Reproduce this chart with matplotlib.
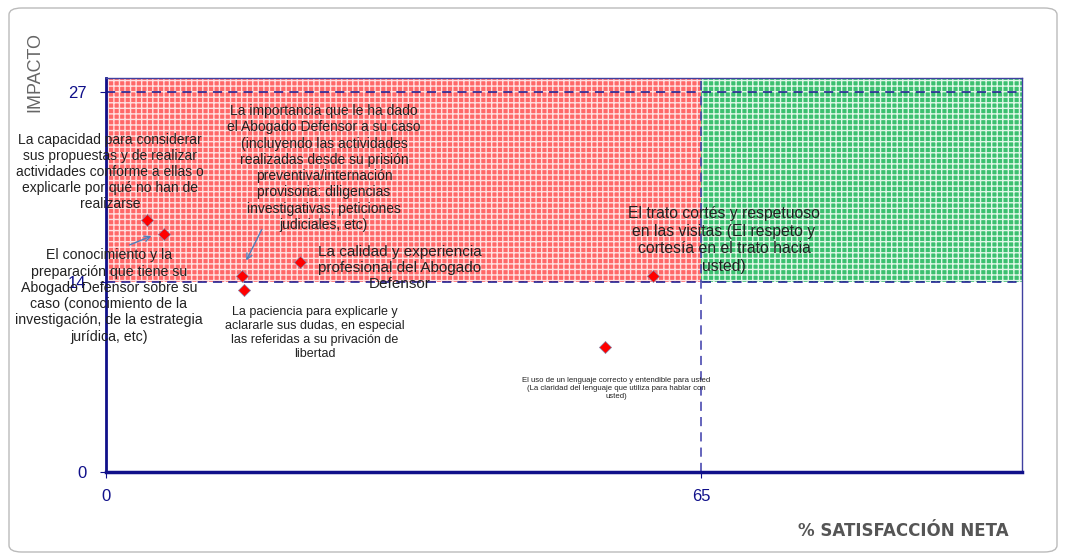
import matplotlib
matplotlib.use('Agg')
import matplotlib.pyplot as plt
from matplotlib.patches import FancyBboxPatch

plt.rcParams['font.family'] = ['Liberation Sans', 'DejaVu Sans']

# ---- data ----
items = [
    'La capacidad para considerar\nsus propuestas y de realizar\nactividades conforme a ellas o\nexplicarle por qué no han de\nrealizarse',
    'El conocimiento y la\npreparación que tiene su\nAbogado Defensor sobre su\ncaso (conocimiento de la\ninvestigación, de la estrategia\njurídica, etc)',
    'La importancia que le ha dado\nel Abogado Defensor a su caso\n(incluyendo las actividades\nrealizadas desde su prisión\npreventiva/internación\nprovisoria: diligencias\ninvestigativas, peticiones\njudiciales, etc)',
    'La paciencia para explicarle y\naclararle sus dudas, en especial\nlas referidas a su privación de\nlibertad',
    'La calidad y experiencia\nprofesional del Abogado\nDefensor',
    'El uso de un lenguaje correcto y entendible para usted\n(La claridad del lenguaje que utiliza para hablar con\nusted)',
    'El trato cortés y respetuoso\nen las visitas (El respeto y\ncortesía en el trato hacia\nusted)',
]
satisfaccion = [4.5, 6.3, 14.8, 15.1, 21.2, 54.5, 59.7]
impacto = [17.9, 16.9, 13.9, 12.9, 14.9, 8.9, 13.9]

x_corte = 65
y_corte = 13.5
y_max_linea = 27
xticks = [0, 65]
yticks = [0, 13.5, 27]
ytick_labels = ['0', '14', '27']

W, H = 1065, 558
navy = '#10108A'
txt = '#222222'

fig = plt.figure(figsize=(W / 100, H / 100), dpi=100)

# rounded frame around the slide
frame = FancyBboxPatch((9 / W, 6 / H), 1048 / W, 544 / H,
                       boxstyle='round,pad=0,rounding_size=0.012',
                       transform=fig.transFigure, facecolor='none',
                       edgecolor='#BBBBBB', lw=1)
fig.patches.append(frame)

ax = fig.add_axes([106 / W, 86 / H, 916 / W, 394 / H])
ax.set_xlim(0, 100)
ax.set_ylim(0, 28)

# quadrants
ax.fill_between([0, x_corte], y_corte, 28, facecolor='#FF6868', edgecolor='#FFE0E0',
                hatch='+++', lw=0, zorder=0)
ax.fill_between([x_corte, 100], y_corte, 28, facecolor='#3CC070', edgecolor='#E0F8E8',
                hatch='+++', lw=0, zorder=0)

ax.axhline(y_max_linea, color=navy, ls=(0, (6, 4)), lw=1.1, zorder=1)
ax.axhline(y_corte, color=navy, ls=(0, (6, 4)), lw=1.1, zorder=1)
ax.axvline(x_corte, color='#3A3AAA', ls=(0, (6, 4)), lw=1.1, zorder=1)

ax.scatter(satisfaccion, impacto, marker='D', s=38, color='#FF0000',
           edgecolor='#8888AA', linewidth=0.5, zorder=3)

for side in ['top', 'right']:
    ax.spines[side].set_color('#4040A0')
    ax.spines[side].set_linewidth(1)
ax.spines['left'].set_color(navy)
ax.spines['left'].set_linewidth(2)
ax.spines['bottom'].set_color(navy)
ax.spines['bottom'].set_linewidth(2.5)

ax.set_xticks(xticks)
ax.set_xticklabels([str(t) for t in xticks])
ax.set_yticks(yticks)
ax.set_yticklabels(ytick_labels)
ax.tick_params(axis='both', colors=navy, labelcolor=navy, labelsize=12,
               length=4, width=0.8)
ax.tick_params(axis='y', pad=10)
ax.tick_params(axis='x', pad=8)

fig.text(903 / W, 1 - 531 / H, '% SATISFACCIÓN NETA', ha='center', va='center',
         fontsize=12, fontweight='bold', color='#555555', family='DejaVu Sans')
fig.text(35 / W, 1 - 72 / H, 'IMPACTO', rotation=90, ha='center', va='center',
         fontsize=13, color='#666666')

# labels: (center x px, center y px, fontsize)
label_pos = [
    (110, 172, 10),
    (109, 296, 10.2),
    (324, 168, 10),
    (315, 333, 9),
    (400, 268, 11),
    (616, 389, 5.6),
    (724, 240, 11.3),
]
for name, (px, py, fs) in zip(items, label_pos):
    fig.text(px / W, 1 - py / H, name, ha='center', va='center', fontsize=fs,
             color=txt, linespacing=1.2, zorder=5)

arrow_color = '#4F81BD'
ax.annotate('', xy=fig.transFigure.transform((154 / W, 1 - 235 / H)), xycoords='figure pixels',
            xytext=fig.transFigure.transform((127 / W, 1 - 246 / H)), textcoords='figure pixels',
            arrowprops=dict(arrowstyle='->', color=arrow_color, lw=1))
ax.annotate('', xy=fig.transFigure.transform((245 / W, 1 - 263 / H)), xycoords='figure pixels',
            xytext=fig.transFigure.transform((263 / W, 1 - 227 / H)), textcoords='figure pixels',
            arrowprops=dict(arrowstyle='->', color=arrow_color, lw=1))

fig.savefig('out.png', dpi=100)
